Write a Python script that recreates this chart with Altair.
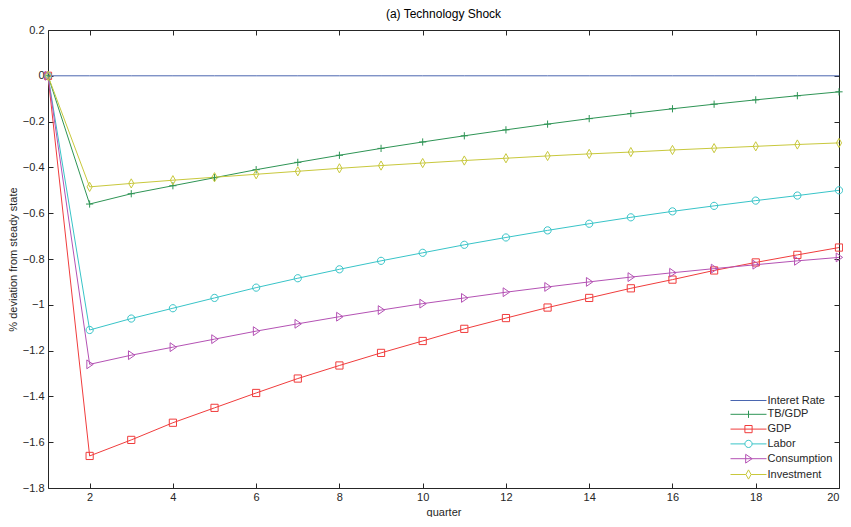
import altair as alt
import pandas as pd

quarters = list(range(1, 21))
series_names = ["Interet Rate", "TB/GDP", "GDP", "Labor", "Consumption", "Investment"]
colors = ["#4a66b0", "#2e9455", "#f03c3c", "#38c4c8", "#b452b4", "#c8c83c"]

interest = [0.0, 0.0, 0.0, 0.0, 0.0, 0.0, 0.0, 0.0, 0.0, 0.0,
            0.0, 0.0, 0.0, 0.0, 0.0, 0.0, 0.0, 0.0, 0.0, 0.0]
tb_gdp = [0.0, -0.56, -0.515, -0.48, -0.445, -0.41, -0.378, -0.347, -0.317, -0.289,
          -0.262, -0.236, -0.211, -0.187, -0.165, -0.144, -0.124, -0.105, -0.087, -0.07]
gdp = [0.0, -1.66, -1.59, -1.515, -1.45, -1.385, -1.322, -1.265, -1.21, -1.158,
       -1.105, -1.058, -1.012, -0.97, -0.928, -0.89, -0.85, -0.815, -0.782, -0.75]
labor = [0.0, -1.11, -1.06, -1.015, -0.97, -0.925, -0.884, -0.845, -0.808, -0.773,
         -0.738, -0.706, -0.675, -0.646, -0.618, -0.592, -0.568, -0.545, -0.523, -0.5]
consumption = [0.0, -1.26, -1.22, -1.185, -1.15, -1.115, -1.083, -1.052, -1.023, -0.995,
               -0.97, -0.945, -0.922, -0.9, -0.879, -0.86, -0.842, -0.825, -0.808, -0.793]
investment = [0.0, -0.485, -0.47, -0.456, -0.443, -0.43, -0.417, -0.404, -0.392, -0.381,
              -0.37, -0.36, -0.35, -0.341, -0.333, -0.324, -0.316, -0.308, -0.3, -0.293]

x_ticks = [2, 4, 6, 8, 10, 12, 14, 16, 18, 20]
y_ticks = [0.2, 0, -0.2, -0.4, -0.6, -0.8, -1, -1.2, -1.4, -1.6, -1.8]

all_values = [interest, tb_gdp, gdp, labor, consumption, investment]
rows = []
for name, vals in zip(series_names, all_values):
    for q, v in zip(quarters, vals):
        rows.append({"quarter": q, "value": v, "series": name})
df = pd.DataFrame(rows)

marker_series = series_names[1:]
marker_paths = [
    "M-0.9,0H0.9M0,-0.9V0.9",
    "M-0.9,-0.9H0.9V0.9H-0.9Z",
    "M0.9,0A0.9,0.9,0,1,1,-0.9,0A0.9,0.9,0,1,1,0.9,0Z",
    "M-0.7,-1.1L0.9,0L-0.7,1.1Z",
    "M0,-1.15L0.65,0L0,1.15L-0.65,0Z",
]
legend_paths = [
    "M-3,0H3",
    "M-3,0H3M0,-0.6V0.6",
    "M-3,0H3M-0.6,-0.6H0.6V0.6H-0.6Z",
    "M-3,0H-0.6M0.6,0H3M0.6,0A0.6,0.6,0,1,1,-0.6,0A0.6,0.6,0,1,1,0.6,0Z",
    "M-3,0H3M-0.47,-0.73L0.6,0L-0.47,0.73Z",
    "M-3,0H-0.43M0.43,0H3M0,-0.77L0.43,0L0,0.77L-0.43,0Z",
]

FONT = "Liberation Sans"
TXT = "#262626"

xscale = alt.Scale(domain=[1, 20], nice=False, zero=False)
yscale = alt.Scale(domain=[-1.8, 0.2], nice=False, zero=False)
color_scale = alt.Scale(domain=series_names, range=colors)

lines = alt.Chart(df).mark_line(strokeWidth=1, clip=True).encode(
    x=alt.X("quarter:Q", scale=xscale,
            axis=alt.Axis(values=x_ticks, title="quarter", orient="bottom", offset=-5,
                          tickSize=5, labelPadding=3, titlePadding=4, domain=False, grid=False)),
    y=alt.Y("value:Q", scale=yscale,
            axis=alt.Axis(values=y_ticks, title="% deviation from steady state", orient="left",
                          offset=-5, tickSize=5, labelPadding=4, titlePadding=4, domain=False,
                          grid=False, labelExpr="format(datum.value, '~g')")),
    color=alt.Color("series:N", scale=color_scale, legend=None),
    detail="series:N",
    order=alt.Order("quarter:Q"),
)

points = alt.Chart(df).transform_filter(
    alt.FieldOneOfPredicate(field="series", oneOf=marker_series)
).mark_point(filled=False, size=64, strokeWidth=1, opacity=1).encode(
    x=alt.X("quarter:Q", scale=xscale,
            axis=alt.Axis(values=x_ticks, title=None, orient="top", offset=-5, tickSize=5,
                          labels=False, domain=False, grid=False)),
    y=alt.Y("value:Q", scale=yscale,
            axis=alt.Axis(values=y_ticks, title=None, orient="right", offset=-5, tickSize=5,
                          labels=False, domain=False, grid=False)),
    color=alt.Color("series:N", scale=color_scale, legend=None),
    shape=alt.Shape("series:N", scale=alt.Scale(domain=marker_series, range=marker_paths),
                    legend=None),
)

leg = alt.Legend(title=None, orient="none", legendX=694, legendY=364, padding=0,
                 symbolSize=144, symbolStrokeWidth=1, labelOffset=12.5, rowPadding=1.8,
                 labelFont=FONT, labelFontSize=11, labelColor=TXT, symbolFillColor="transparent")

legend_layer = alt.Chart(df).transform_calculate(label="datum.series").mark_point(
    filled=False, opacity=0, size=10
).encode(
    x=alt.X("quarter:Q", scale=xscale, axis=None),
    y=alt.Y("value:Q", scale=yscale, axis=None),
    color=alt.Color("label:N", scale=alt.Scale(domain=series_names, range=colors), legend=leg),
    shape=alt.Shape("label:N", scale=alt.Scale(domain=series_names, range=legend_paths), legend=leg),
)

chart = alt.layer(lines, points, legend_layer).resolve_scale(
    color="independent", shape="independent"
).resolve_axis(
    x="independent", y="independent"
).properties(
    width=791, height=458,
    autosize=alt.AutoSizeParams(type="none"),
    padding={"left": 40, "top": 22, "right": 4, "bottom": 29},
    title=alt.Title("(a) Technology Shock", font=FONT, fontSize=12, fontWeight="normal",
                    color="#000000", anchor="middle", offset=3),
).configure_view(
    stroke="#262626", strokeWidth=1
).configure_axis(
    labelFont=FONT, labelFontSize=11, labelColor=TXT, titleFont=FONT, titleFontSize=11,
    titleColor=TXT, titleFontWeight="normal", tickColor="#262626", tickWidth=1
)

chart.save("out.html", embed_options={"renderer": "svg", "actions": False})
